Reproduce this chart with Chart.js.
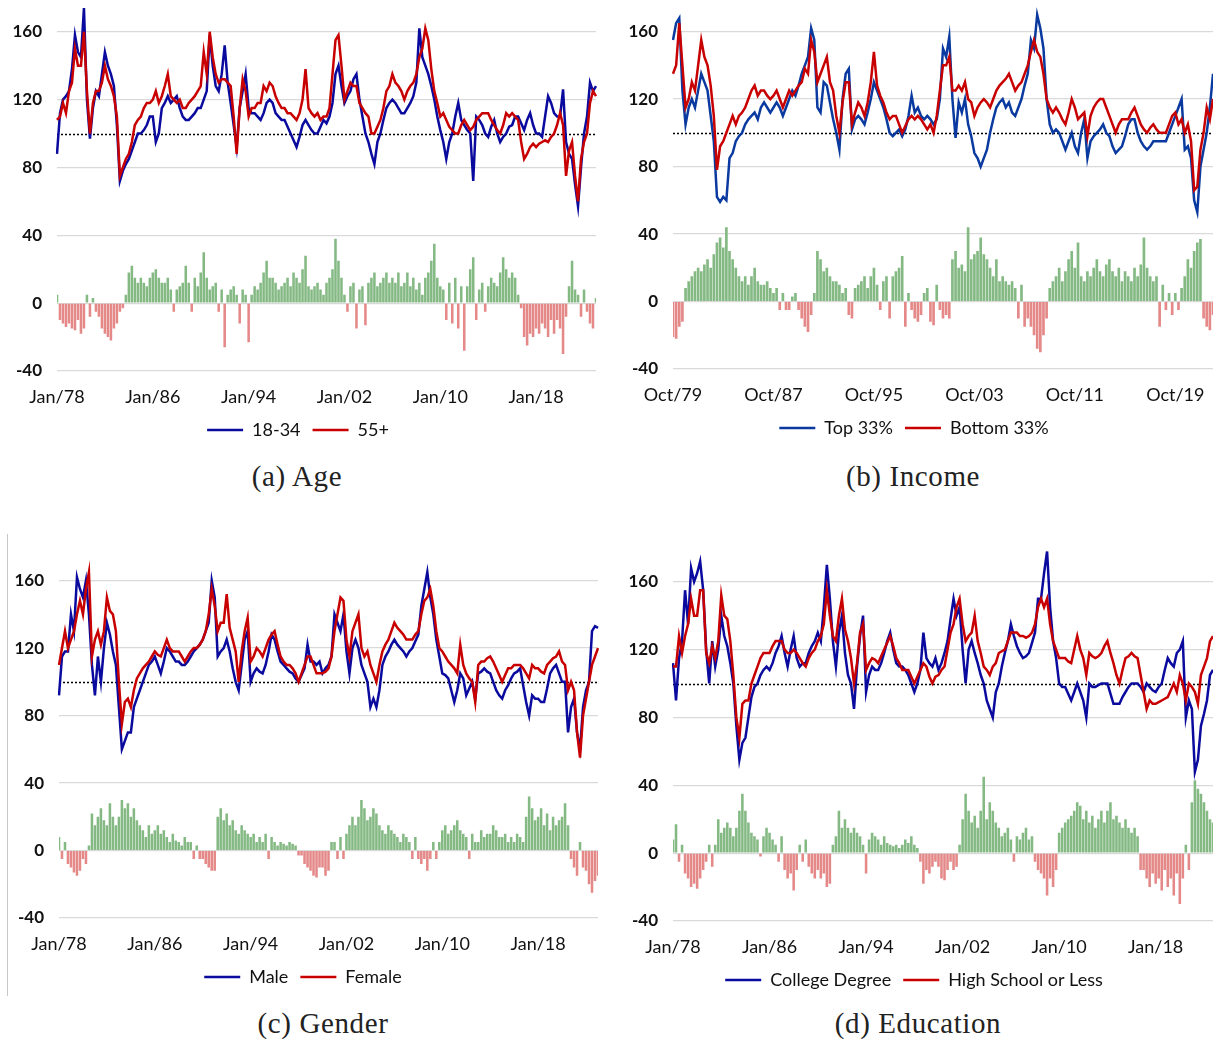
<!DOCTYPE html>
<html>
<head>
<meta charset="utf-8">
<script src="https://cdn.jsdelivr.net/npm/chart.js@4.4.0/dist/chart.umd.min.js"></script>
<style>
  body { margin: 0; background: #fff; width: 1213px; height: 1039px; position: relative; overflow: hidden; }
  canvas { position: absolute; }
  .cap { position: absolute; font-family: "Liberation Serif", serif; font-size: 29px; letter-spacing: 0.6px; color: #222; transform: translateX(-50%); white-space: nowrap; line-height: 30px; }
  .frame { position: absolute; left: 7px; top: 534px; width: 1px; height: 462px; background: #c8c8c8; }
</style>
</head>
<body>
<canvas id="chartAge" width="610" height="473" style="left:0;top:-24px"></canvas>
<canvas id="chartIncome" width="626" height="471" style="left:615px;top:-24px"></canvas>
<div class="frame"></div>
<canvas id="chartGender" width="602" height="471" style="left:8px;top:525px"></canvas>
<canvas id="chartEdu" width="620" height="473" style="left:615px;top:526px"></canvas>
<div class="cap" style="left:297px;top:461px">(a) Age</div>
<div class="cap" style="left:913px;top:461px">(b) Income</div>
<div class="cap" style="left:323px;top:1008px">(c) Gender</div>
<div class="cap" style="left:918px;top:1008px">(d) Education</div>
<script>
// quarterly readings, Jan/78 .. Jan/23
const ageYoung = [
  88,112,120,122, 125,138,158,148,
  145,174,120,97, 115,125,122,135,
  148,140,135,128, 105,72,78,82,
  85,90,95,100, 100,102,105,110,
  110,95,100,115, 118,122,118,120,
  122,115,110,108, 108,110,112,115,
  115,120,125,158, 140,128,125,135,
  152,130,118,105, 92,115,125,135,
  115,112,112,110, 108,112,118,120,
  118,112,110,108, 108,104,100,96,
  92,98,105,108, 105,102,100,100,
  104,108,106,110, 118,135,140,128,
  118,122,125,132, 135,120,110,100,
  95,88,82,95, 100,108,115,118,
  120,118,115,112, 112,115,118,122,
  130,162,145,140, 135,128,120,110,
  102,95,85,95, 100,110,118,108,
  105,102,100,72, 110,108,105,100,
  98,104,108,100, 95,98,100,104,
  105,110,110,106, 102,108,112,105,
  100,100,98,110, 122,118,112,110,
  110,126,95,88, 85,70,57,80,
  100,110,130,125, 128
];
const ageOld = [
  108,110,118,112, 125,130,150,140,
  140,160,125,100, 118,125,125,130,
  140,132,128,122, 110,75,80,85,
  88,95,105,108, 110,115,118,118,
  120,125,118,122, 128,135,122,120,
  118,120,115,115, 118,120,122,125,
  128,148,135,160, 145,135,130,132,
  132,130,128,110, 88,115,132,125,
  110,115,115,118, 118,128,125,130,
  128,122,118,115, 115,112,112,110,
  108,112,120,138, 115,112,110,112,
  108,110,110,115, 135,155,158,140,
  120,125,130,128, 128,118,115,112,
  110,100,100,104, 108,115,125,128,
  135,130,128,125, 120,125,128,130,
  135,145,150,162, 155,138,125,118,
  110,112,108,104, 102,100,100,105,
  108,105,102,104, 108,110,112,112,
  112,108,105,102, 100,105,112,110,
  112,110,108,95, 85,88,92,94,
  92,94,95,96, 95,98,100,105,
  112,105,75,90, 95,75,60,85,
  95,100,118,125, 122
];
const ageDiff = [
  5,-10,-12,-14, -12,-15,-16,-10,
  -18,-15,5,-8, 3,-5,-8,-15,
  -18,-20,-22,-15, -12,-5,-3,5,
  18,22,15,12, 15,12,10,15,
  18,20,15,12, 12,15,8,-5,
  8,10,12,22, 12,-5,15,10,
  18,30,15,8, 10,12,-5,8,
  -26,5,8,10, 5,-12,8,5,
  -23,5,10,8, 12,18,25,15,
  15,12,8,10, 12,15,10,18,
  15,12,20,28, 10,8,10,12,
  8,5,12,15, 20,38,25,15,
  5,-5,10,12, -15,8,10,-13,
  12,15,18,10, 12,15,18,12,
  15,12,18,10, 12,18,10,15,
  8,12,5,15, 18,25,35,15,
  10,8,-10,12, -12,15,-15,10,
  -28,10,20,27, -10,8,12,-5,
  10,15,12,10, 18,27,20,15,
  18,15,5,-3, -20,-25,-18,-20,
  -15,-18,-12,-15, -20,-10,-18,-10,
  -15,-30,-8,10, 25,8,5,-8,
  8,-5,-12,-15, 3
];

// quarterly readings, Oct/79 .. Oct/22
const incomeTop = [
  155,
  165,168,125,105, 115,120,115,125,
  135,130,125,110, 95,62,59,62,
  60,85,88,95, 98,100,105,108,
  110,112,108,115, 118,115,112,115,
  118,115,110,115, 120,125,122,128,
  135,140,145,162, 155,115,112,130,
  128,118,108,100, 90,120,135,138,
  102,108,110,108, 105,112,120,130,
  125,120,115,108, 100,98,100,102,
  98,102,110,122, 112,115,110,108,
  110,108,105,108, 120,150,145,157,
  120,97,118,112, 120,105,98,88,
  85,80,85,90, 100,108,115,118,
  120,115,118,112, 110,115,120,128,
  135,155,150,170, 162,150,120,105,
  100,102,100,95, 90,95,100,92,
  88,100,108,85, 95,98,100,102,
  105,100,98,92, 88,90,92,98,
  105,108,108,100, 95,92,90,92,
  95,95,95,95, 95,100,105,110,
  115,120,90,92, 85,60,53,80,
  90,100,115,135
];
const incomeBottom = [
  135,
  140,165,140,115, 120,130,125,140,
  155,145,140,128, 110,78,92,95,
  100,105,110,105, 110,112,115,120,
  125,128,122,125, 125,122,120,122,
  125,120,115,120, 125,122,125,128,
  130,138,135,155, 148,130,135,140,
  145,130,125,110, 100,118,130,130,
  105,112,118,115, 110,118,130,148,
  128,122,118,112, 108,110,110,105,
  100,104,108,110, 108,110,108,105,
  102,105,100,110, 125,140,140,145,
  125,125,128,125, 130,120,118,110,
  115,118,120,118, 115,120,125,128,
  130,132,135,130, 125,128,130,135,
  140,148,155,148, 145,135,120,115,
  112,115,112,108, 105,112,120,115,
  108,110,112,98, 110,115,118,120,
  120,115,110,105, 100,105,108,108,
  108,112,115,110, 105,102,100,103,
  105,102,100,100, 100,105,110,112,
  105,108,100,105, 95,66,68,90,
  100,115,108,120
];
const incomeDiff = [
  -21,
  -22,-15,-12,8, 12,15,18,20,
  18,22,25,20, 28,35,38,32,
  44,30,25,20, 15,12,15,10,
  15,20,12,10, 10,12,8,5,
  8,-5,5,-5, -5,3,5,-5,
  -10,-15,-18,-8, 5,30,25,18,
  20,15,12,12, 10,5,8,-8,
  -10,8,10,12, 15,8,15,20,
  10,-5,12,15, -10,15,18,20,
  27,-15,5,-5, -10,-12,-8,5,
  8,-12,-14,10, -5,-10,-8,-10,
  25,30,20,22, 18,44,25,28,
  30,38,28,25, 20,15,25,12,
  15,12,10,12, 8,-10,10,-15,
  -10,-15,-20,-28, -30,-20,-10,8,
  12,15,20,12, 18,25,30,20,
  35,15,12,18, 15,20,25,18,
  15,22,25,18, 15,20,12,18,
  15,12,20,15, 22,38,20,15,
  12,15,-15,10, -5,5,-8,5,
  -5,8,15,25, 20,30,35,37,
  -10,-15,-17,-8
];

// quarterly readings, Jan/78 .. Jan/23
const genderMale = [
  92,115,118,118, 140,130,162,155,
  150,160,140,110, 92,115,100,120,
  135,128,118,110, 85,60,65,70,
  70,85,90,95, 100,105,110,112,
  115,110,105,112, 120,118,115,112,
  112,110,110,112, 115,118,120,122,
  125,130,135,160, 150,115,118,120,
  125,118,108,100, 95,110,125,130,
  100,105,108,106, 105,110,118,128,
  125,118,112,110, 108,106,105,102,
  100,104,108,122, 112,112,110,112,
  105,108,110,115, 140,135,130,140,
  118,105,120,125, 120,110,105,100,
  85,90,85,95, 110,115,118,122,
  125,122,120,118, 115,118,120,124,
  128,145,155,165, 150,140,125,115,
  105,104,102,95, 88,95,105,102,
  92,96,100,90, 105,106,108,106,
  105,100,95,92, 90,95,98,102,
  105,106,108,98, 88,80,92,90,
  90,88,88,96, 105,108,110,105,
  100,100,70,85, 90,70,60,85,
  95,100,130,133, 132
];
const genderFemale = [
  110,120,130,120, 125,130,140,148,
  140,155,165,115, 125,130,122,130,
  150,142,140,130, 100,75,88,90,
  85,95,102,105, 108,110,112,115,
  118,116,115,120, 125,120,118,118,
  118,115,112,115, 118,120,120,122,
  125,130,140,155, 145,130,135,135,
  152,132,125,118, 100,118,130,138,
  112,115,120,118, 115,120,125,128,
  130,122,115,112, 110,110,108,105,
  100,105,110,115, 115,110,105,105,
  105,106,108,115, 130,140,150,148,
  125,115,130,135, 140,120,115,118,
  110,105,100,110, 118,122,125,130,
  135,132,130,128, 125,125,125,128,
  130,140,148,150, 155,145,130,120,
  118,115,112,110, 108,105,122,110,
  105,102,100,88, 110,112,112,114,
  115,112,108,104, 100,104,108,108,
  110,110,110,108, 105,102,110,108,
  108,106,105,110, 112,114,115,118,
  112,110,95,100, 95,70,55,80,
  90,100,110,115, 120
];
const genderDiff = [
  8,-5,5,-8, -10,-13,-15,-12,
  -5,-8,3,22, 15,20,25,18,
  15,28,20,15, 20,30,25,28,
  20,25,18,15, 12,8,15,10,
  12,15,10,12, 8,5,10,6,
  5,3,8,5, 5,-5,3,-5,
  -5,-8,-10,-12, -12,20,25,18,
  22,15,18,12, 10,15,12,10,
  8,10,5,8, 5,10,-5,8,
  5,3,5,4, 3,5,4,3,
  -3,-3,-8,-10, -12,-15,-16,-10,
  -10,-15,-12,5, 5,-5,8,-5,
  10,15,20,15, 20,30,25,18,
  20,25,22,15, 12,10,15,12,
  10,8,5,10, 8,5,-5,8,
  -5,-8,-5,-12, -5,5,-5,5,
  12,15,10,12, 15,18,12,10,
  8,-5,10,5, 5,12,8,10,
  10,15,12,8, 8,10,5,8,
  5,10,8,5, 20,32,25,18,
  20,25,15,22, 12,20,15,18,
  20,28,15,-5, -10,-15,5,-10,
  -12,-20,-25,-18, -15
];

// quarterly readings, Jan/78 .. Oct/22
const eduCollege = [
  112,90,115,125, 155,135,168,160,
  165,172,155,120, 100,125,110,120,
  140,128,122,112, 100,75,55,65,
  68,80,92,98, 100,105,108,110,
  108,112,118,122, 128,118,110,120,
  128,115,110,112, 112,118,122,125,
  130,125,145,170, 150,125,110,130,
  140,118,105,100, 85,110,128,140,
  95,105,110,108, 108,112,118,125,
  130,120,112,110, 110,108,105,100,
  95,100,108,130, 115,112,110,115,
  108,112,118,125, 138,150,140,145,
  120,100,120,125, 118,112,105,100,
  90,85,80,95, 100,110,118,125,
  135,128,122,118, 115,116,118,124,
  130,150,150,165, 178,145,125,115,
  100,98,98,94, 90,95,100,95,
  90,80,100,98, 98,99,100,100,
  100,94,88,88, 88,92,95,98,
  100,100,100,98, 95,100,98,96,
  95,98,100,108, 115,112,110,118,
  120,125,80,90, 85,48,55,75,
  82,90,105,108
];
const eduHighSchool = [
  110,110,128,118, 128,135,150,140,
  140,155,155,118, 112,122,115,125,
  152,140,138,125, 105,80,68,88,
  90,90,100,105, 110,115,118,118,
  118,122,125,125, 125,120,118,118,
  120,118,115,112, 110,115,118,120,
  125,128,135,155, 140,128,125,140,
  150,132,125,115, 100,112,130,135,
  108,112,115,114, 112,116,120,124,
  128,122,115,112, 108,108,108,104,
  100,104,108,112, 110,104,100,104,
  105,108,110,120, 130,135,145,150,
  135,125,128,130, 140,125,118,110,
  108,105,110,112, 118,119,120,125,
  130,130,130,128, 128,127,128,130,
  135,145,150,145, 150,135,125,120,
  115,115,115,113, 112,120,128,120,
  115,105,118,116, 115,116,118,122,
  125,118,112,105, 100,108,115,116,
  118,116,115,105, 95,85,90,88,
  88,89,90,91, 92,96,100,95,
  105,100,90,100, 98,95,88,105,
  110,115,125,128
];
const eduDiff = [
  8,17,-5,5, -12,-15,-20,-18,
  -21,-15,-10,-5, 5,-8,5,20,
  12,15,18,15, 10,15,25,35,
  25,18,12,10, 8,-2,10,15,
  12,8,5,-5, 10,-10,-15,-12,
  -22,-10,5,-5, 8,-8,-12,-15,
  -10,-15,-12,-20, -18,5,10,25,
  15,20,15,12, 15,12,10,5,
  -12,8,12,10, 8,5,10,6,
  5,4,5,3, 5,8,6,10,
  5,3,-5,-18, -10,-12,-8,-5,
  -8,-15,-16,-10, -5,-10,-8,5,
  20,35,25,18, 22,15,25,45,
  20,30,25,18, 15,10,12,15,
  8,-5,10,8, 12,15,8,10,
  -5,-10,-12,-15, -25,-15,-20,-10,
  12,15,18,20, 22,25,30,28,
  20,25,18,22, 15,20,25,18,
  25,30,20,22, 18,15,20,15,
  12,15,10,-10, -10,-15,-20,-12,
  -18,-15,-22,-10, -20,-15,-25,-12,
  -30,-15,5,-10, 30,43,38,35,
  30,25,20,18
];

const ticksJan = ['Jan/78', 'Jan/86', 'Jan/94', 'Jan/02', 'Jan/10', 'Jan/18'];
const ticksOct = ['Oct/79', 'Oct/87', 'Oct/95', 'Oct/03', 'Oct/11', 'Oct/19'];

// one label per quarter
function quarterLabels(year, q, n) {
  const mon = ['Jan', 'Apr', 'Jul', 'Oct'];
  const out = [];
  for (let i = 0; i < n; i++) {
    out.push(mon[q] + '/' + String(year % 100).padStart(2, '0'));
    q++;
    if (q === 4) { q = 0; year++; }
  }
  return out;
}

Chart.defaults.font.family = 'Lato, "Open Sans", sans-serif';
Chart.defaults.color = '#111';

const refLine = {
  id: 'refLine',
  beforeDatasetsDraw(chart) {
    const { ctx, chartArea, scales } = chart;
    const y = Math.round(scales.y.getPixelForValue(100)) + 0.5;
    ctx.save();
    ctx.setLineDash([2, 2]);
    ctx.strokeStyle = '#000';
    ctx.lineWidth = 1.5;
    ctx.beginPath();
    ctx.moveTo(chartArea.left, y);
    ctx.lineTo(chartArea.right, y);
    ctx.stroke();
    ctx.restore();
  }
};

function makePanel(id, labels, tickList, s1, s2, diff, names, colors, padRight, yWidth) {
  return new Chart(document.getElementById(id), {
    data: {
      labels: labels,
      datasets: [
        { type: 'line', label: names[0], data: s1, borderColor: colors[0], backgroundColor: colors[0],
          borderWidth: 2.5, pointRadius: 0, tension: 0, order: 1 },
        { type: 'line', label: names[1], data: s2, borderColor: colors[1], backgroundColor: colors[1],
          borderWidth: 2.5, pointRadius: 0, tension: 0, order: 0 },
        { type: 'bar', label: 'diff', data: diff, order: 2,
          backgroundColor: c => c.raw >= 0 ? '#84b984' : '#e48888',
          categoryPercentage: 1, barPercentage: 0.85 }
      ]
    },
    options: {
      responsive: false,
      animation: false,
      layout: { padding: { left: 0, right: padRight, top: 0, bottom: 0 } },
      plugins: {
        tooltip: { enabled: false },
        legend: {
          position: 'bottom',
          labels: {
            filter: item => item.datasetIndex < 2,
            sort: (a, b) => a.datasetIndex - b.datasetIndex,
            usePointStyle: true,
            pointStyle: 'line',
            pointStyleWidth: 36,
            color: '#111',
            font: { size: 18 },
            padding: 12
          }
        }
      },
      scales: {
        x: {
          type: 'category',
          offset: false,
          grid: { display: false },
          border: { display: false },
          ticks: {
            autoSkip: false, maxRotation: 0, padding: 7, font: { size: 18 }, color: '#111',
            callback: function (v) {
              const lab = this.getLabelForValue(v);
              return tickList.includes(lab) ? lab : null;
            }
          },
          afterFit: s => { s.height = 38; }
        },
        y: {
          min: -40, max: 178,
          afterBuildTicks: s => { s.ticks = [-40, 0, 40, 80, 120, 160].map(v => ({ value: v })); },
          grid: { color: '#d9d9d9', lineWidth: 1.2, drawTicks: false },
          border: { display: false },
          ticks: { padding: 15, font: { size: 17, weight: 'bold' }, color: '#111' },
          afterFit: s => { s.width = yWidth; }
        }
      }
    },
    plugins: [refLine]
  });
}

makePanel('chartAge', quarterLabels(1978, 0, ageYoung.length), ticksJan, ageYoung, ageOld, ageDiff,
  ['18-34', '55+'], ['#0a0a9e', '#c80000'], 14, 57);
makePanel('chartIncome', quarterLabels(1979, 3, incomeTop.length), ticksOct, incomeTop, incomeBottom, incomeDiff,
  ['Top 33%', 'Bottom 33%'], ['#0a3aa0', '#c80000'], 28, 58);
makePanel('chartGender', quarterLabels(1978, 0, genderMale.length), ticksJan, genderMale, genderFemale, genderDiff,
  ['Male', 'Female'], ['#0a0a9e', '#c80000'], 12, 51);
makePanel('chartEdu', quarterLabels(1978, 0, eduCollege.length), ticksJan, eduCollege, eduHighSchool, eduDiff,
  ['College Degree', 'High School or Less'], ['#0a0a9e', '#c80000'], 22, 58);
</script>
</body>
</html>
